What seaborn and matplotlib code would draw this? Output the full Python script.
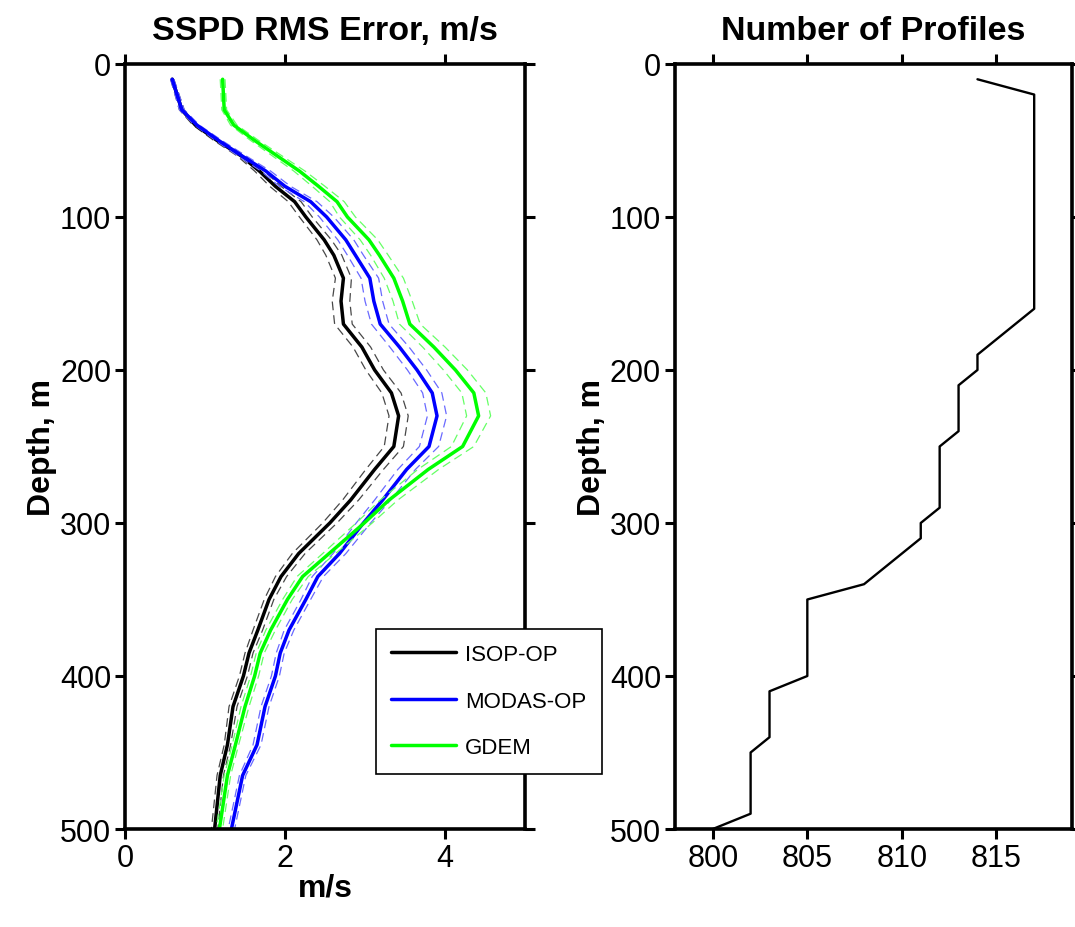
import numpy as np
import pandas as pd
import seaborn as sns
import matplotlib.pyplot as plt

# depth levels (m) used for the RMS error profiles
depth = [10, 30, 40, 50, 60, 70, 80, 90, 100, 115, 125, 140, 155, 170, 185, 200,
         215, 230, 250, 265, 285, 300, 320, 335, 350, 370, 385, 400, 420, 445, 465, 500]

isop_op = [0.59, 0.71, 0.88, 1.15, 1.45, 1.68, 1.88, 2.12, 2.26, 2.49, 2.61, 2.73, 2.70, 2.73, 2.96, 3.12,
           3.33, 3.42, 3.36, 3.12, 2.82, 2.56, 2.17, 1.95, 1.80, 1.66, 1.55, 1.48, 1.35, 1.28, 1.19, 1.12]
modas_op = [0.59, 0.71, 0.90, 1.17, 1.46, 1.76, 2.00, 2.32, 2.52, 2.76, 2.88, 3.06, 3.11, 3.19, 3.43, 3.65,
            3.84, 3.90, 3.80, 3.52, 3.22, 2.98, 2.68, 2.41, 2.26, 2.05, 1.94, 1.88, 1.75, 1.65, 1.47, 1.33]
gdem = [1.22, 1.24, 1.36, 1.62, 1.90, 2.18, 2.42, 2.65, 2.78, 3.05, 3.18, 3.36, 3.47, 3.56, 3.86, 4.13,
        4.36, 4.42, 4.22, 3.79, 3.30, 2.99, 2.55, 2.22, 2.03, 1.82, 1.69, 1.62, 1.50, 1.38, 1.28, 1.18]

# half widths of the dashed confidence bands
ci_isop = [0.02, 0.03, 0.03, 0.04, 0.05, 0.06, 0.07, 0.08, 0.08, 0.09, 0.10, 0.10, 0.11, 0.11, 0.11, 0.11,
           0.12, 0.12, 0.12, 0.11, 0.10, 0.09, 0.08, 0.07, 0.06, 0.06, 0.05, 0.05, 0.05, 0.04, 0.04, 0.04]
ci_modas = [0.02, 0.03, 0.03, 0.04, 0.05, 0.06, 0.07, 0.08, 0.09, 0.10, 0.10, 0.11, 0.11, 0.11, 0.12, 0.12,
            0.12, 0.12, 0.12, 0.11, 0.10, 0.09, 0.08, 0.07, 0.06, 0.06, 0.05, 0.05, 0.05, 0.05, 0.04, 0.04]
ci_gdem = [0.03, 0.03, 0.04, 0.05, 0.06, 0.07, 0.08, 0.09, 0.10, 0.11, 0.11, 0.12, 0.12, 0.13, 0.14, 0.15,
           0.15, 0.15, 0.14, 0.13, 0.11, 0.10, 0.08, 0.07, 0.06, 0.06, 0.05, 0.05, 0.05, 0.04, 0.04, 0.04]

# number of profiles per depth
prof_depth = [10, 20, 160, 170, 180, 190, 200, 210, 240, 250, 290, 300, 310, 320, 330, 340,
              350, 400, 410, 440, 450, 490, 500]
prof_count = [814, 817, 817, 816, 815, 814, 814, 813, 813, 812, 812, 811, 811, 810, 809, 808,
              805, 805, 803, 803, 802, 802, 800]

series = [("ISOP-OP", isop_op, ci_isop, "#000000", "#484848"),
          ("MODAS-OP", modas_op, ci_modas, "#0000ff", "#6a6aff"),
          ("GDEM", gdem, ci_gdem, "#00ff00", "#66ff66")]

sns.set_style("ticks")
plt.rcParams['font.family'] = ['Liberation Sans', 'DejaVu Sans']
plt.rcParams['text.color'] = 'black'
plt.rcParams['axes.labelcolor'] = 'black'
plt.rcParams['xtick.color'] = 'black'
plt.rcParams['ytick.color'] = 'black'
plt.rcParams['axes.edgecolor'] = 'black'

fig = plt.figure(figsize=(10.75, 9.28), dpi=100)
ax1 = fig.add_axes([0.1163, 0.1056, 0.3721, 0.8244])
ax2 = fig.add_axes([0.6279, 0.1056, 0.3693, 0.8244])

for name, vals, ci, col, bandcol in series:
    df = pd.DataFrame({"depth": depth, "val": vals, "ci": ci})
    df["lo"] = df["val"] - df["ci"]
    df["hi"] = df["val"] + df["ci"]
    for edge in ["lo", "hi"]:
        sns.lineplot(data=df, x=edge, y="depth", orient="y", ax=ax1, color=bandcol,
                     linewidth=0.9, linestyle=(0, (7, 4)), legend=False)
    sns.lineplot(data=df, x="val", y="depth", orient="y", ax=ax1, color=col,
                 linewidth=2.5, label=name)

prof = pd.DataFrame({"depth": prof_depth, "count": prof_count})
sns.lineplot(data=prof, x="count", y="depth", orient="y", ax=ax2, color="black", linewidth=1.7)

for ax in [ax1, ax2]:
    ax.set_ylim(500, 0)
    ax.set_yticks([0, 100, 200, 300, 400, 500])
    ax.tick_params(axis="both", direction="out", length=7, width=2.2, labelsize=22,
                   top=True, right=True, pad=3, colors="black")
    for s in ax.spines.values():
        s.set_linewidth(2.6)
        s.set_color("black")
        s.set_visible(True)
    ax.set_ylabel("Depth, m", fontsize=23, fontweight="bold", labelpad=2)

ax1.set_xlim(0, 5)
ax1.set_xticks([0, 2, 4])
ax1.set_xlabel("m/s", fontsize=23, fontweight="bold", labelpad=0)
ax1.set_title("SSPD RMS Error, m/s", fontsize=24.5, fontweight="bold", pad=18)

ax2.set_xlim(798, 819)
ax2.set_xticks([800, 805, 810, 815])
ax2.set_xlabel("")
ax2.set_title("Number of Profiles", fontsize=24.5, fontweight="bold", pad=18)

leg = ax1.legend(loc="upper left", bbox_to_anchor=(0.627, 0.262), borderaxespad=0,
                 fontsize=16, frameon=True, fancybox=False, framealpha=1,
                 edgecolor="black", handlelength=2.9, handletextpad=0.4,
                 labelspacing=1.15, borderpad=0.7)
leg.get_frame().set_linewidth(1.2)
leg.set_zorder(10)

fig.savefig("out.png", dpi=100)
